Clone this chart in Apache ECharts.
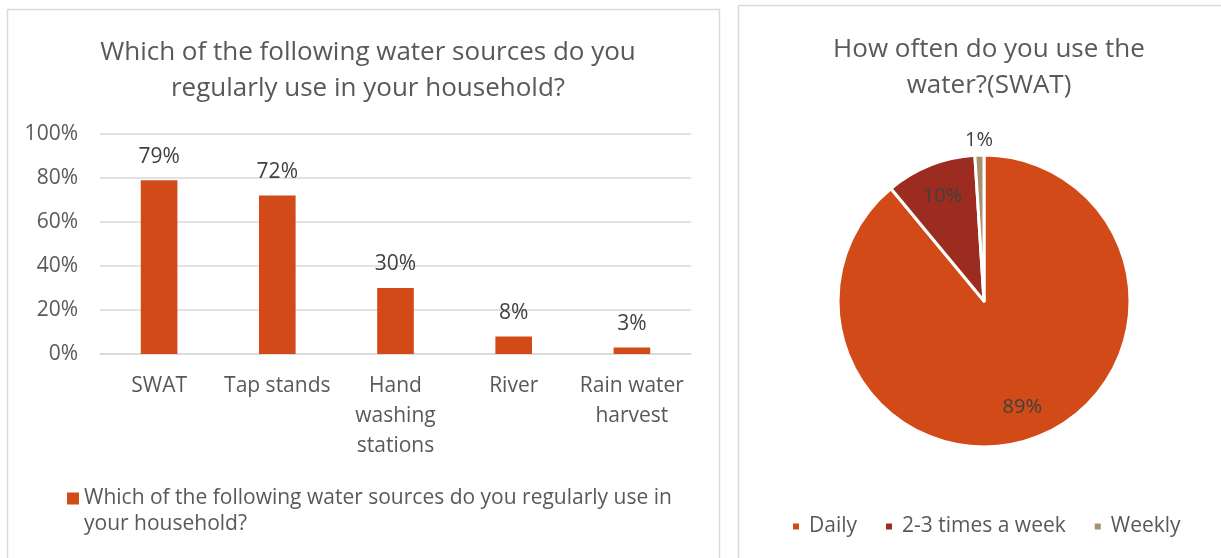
<!DOCTYPE html>
<html><head><meta charset="utf-8">
<script src="https://cdn.jsdelivr.net/npm/echarts@6/dist/echarts.min.js"></script>
<style>html,body{margin:0;padding:0;background:#fff}#c{width:1221px;height:558px}</style>
</head><body><div id="c"></div>
<script>
const barCategories = ['SWAT', 'Tap stands', 'Hand\nwashing\nstations', 'River', 'Rain water\nharvest'];
const barValues = [79, 72, 30, 8, 3];
const barSeriesName = 'Which of the following water sources do you regularly use in your household?';
const barLegendLines = ['Which of the following water sources do you regularly use in', 'your household?'];
const yTicks = [0, 20, 40, 60, 80, 100];
const pieNames = ['Daily', '2-3 times a week', 'Weekly'];
const pieValues = [89, 10, 1];
const pieColors = ['#D24A18', '#9B2C1F', '#A8916E'];

const FONT = '"Open Sans", "Noto Sans", sans-serif';
const chart = echarts.init(document.getElementById('c'), null, {renderer: 'canvas'});
const pieData = pieNames.map((n, i) => ({name: n, value: pieValues[i], itemStyle: {color: pieColors[i]}}));
// labels for big slices (inside), small slice label drawn by the outer ring
const innerLabelData = pieNames.map((n, i) => ({name: n, value: pieValues[i], label: {show: i < 2}}));
const outerLabelData = pieNames.map((n, i) => ({name: n, value: pieValues[i], label: {show: i === 2}}));
const labelStyle = {position: 'inside', formatter: '{c}%', fontFamily: FONT, fontSize: 20, color: '#404040'};
chart.setOption({
  animation: false,
  textStyle: {fontFamily: FONT},
  graphic: [
    {type: 'rect', shape: {x: 7.5, y: 9.5, width: 712, height: 560}, style: {fill: 'none', stroke: '#D9D9D9', lineWidth: 1.5}},
    {type: 'rect', shape: {x: 738.5, y: 5.5, width: 500, height: 560}, style: {fill: 'none', stroke: '#D9D9D9', lineWidth: 1.5}},
    {type: 'text', left: 84, top: 514, style: {text: barLegendLines[1], font: '21px ' + FONT, fill: '#595959'}}
  ],
  title: [
    {text: 'Which of the following water sources do you\nregularly use in your household?', left: 363, top: 30, textAlign: 'center',
     textStyle: {fontFamily: FONT, fontSize: 26, fontWeight: 'normal', color: '#595959', lineHeight: 36}},
    {text: 'How often do you use the\nwater?(SWAT)', left: 984, top: 27, textAlign: 'center',
     textStyle: {fontFamily: FONT, fontSize: 26, fontWeight: 'normal', color: '#595959', lineHeight: 36}}
  ],
  legend: [
    {data: [barSeriesName], left: 62, top: 483, itemWidth: 12, itemHeight: 12, icon: 'rect', itemGap: 6,
     formatter: () => barLegendLines[0],
     textStyle: {fontFamily: FONT, fontSize: 21, color: '#595959'}},
    {data: pieNames, left: 786, top: 511, itemWidth: 8, itemHeight: 8, icon: 'rect', itemGap: 27,
     textStyle: {fontFamily: FONT, fontSize: 21, color: '#595959', padding: [0, 0, 0, 4]}}
  ],
  grid: {left: 100, right: 530, top: 134, bottom: 204, containLabel: false},
  xAxis: {type: 'category', data: barCategories,
    axisLine: {show: true, lineStyle: {color: '#D9D9D9', width: 1.5}}, axisTick: {show: false},
    axisLabel: {fontFamily: FONT, fontSize: 21, color: '#595959', lineHeight: 30, margin: 17, interval: 0}},
  yAxis: {type: 'value', min: 0, max: 100, interval: 20,
    axisLine: {show: false}, axisTick: {show: false},
    splitLine: {lineStyle: {color: '#D9D9D9', width: 1.5}},
    axisLabel: {formatter: '{value}%', fontFamily: FONT, fontSize: 21, color: '#595959', margin: 22}},
  series: [
    {type: 'bar', name: barSeriesName, data: barValues, barWidth: '31%', itemStyle: {color: '#D24A18'},
     label: {show: true, position: 'top', distance: 13, formatter: '{c}%', fontFamily: FONT, fontSize: 21, color: '#404040'}},
    {type: 'pie', name: 'freq', center: [984, 301], radius: [0, 146], startAngle: 90, clockwise: true,
     data: pieData, label: {show: false}, labelLine: {show: false},
     itemStyle: {borderColor: '#fff', borderWidth: 3}, emphasis: {disabled: true}},
    {type: 'pie', name: 'freqLabelsIn', center: [984, 301], radius: [72, 148], startAngle: 90, clockwise: true,
     silent: true, data: innerLabelData, itemStyle: {color: 'rgba(0,0,0,0)'}, emphasis: {disabled: true},
     label: labelStyle, labelLine: {show: false}},
    {type: 'pie', name: 'freqLabelsOut', center: [984, 301], radius: [148, 168], startAngle: 90, clockwise: true,
     silent: true, data: outerLabelData, itemStyle: {color: 'rgba(0,0,0,0)'}, emphasis: {disabled: true},
     label: labelStyle, labelLine: {show: false}}
  ]
});
</script></body></html>
